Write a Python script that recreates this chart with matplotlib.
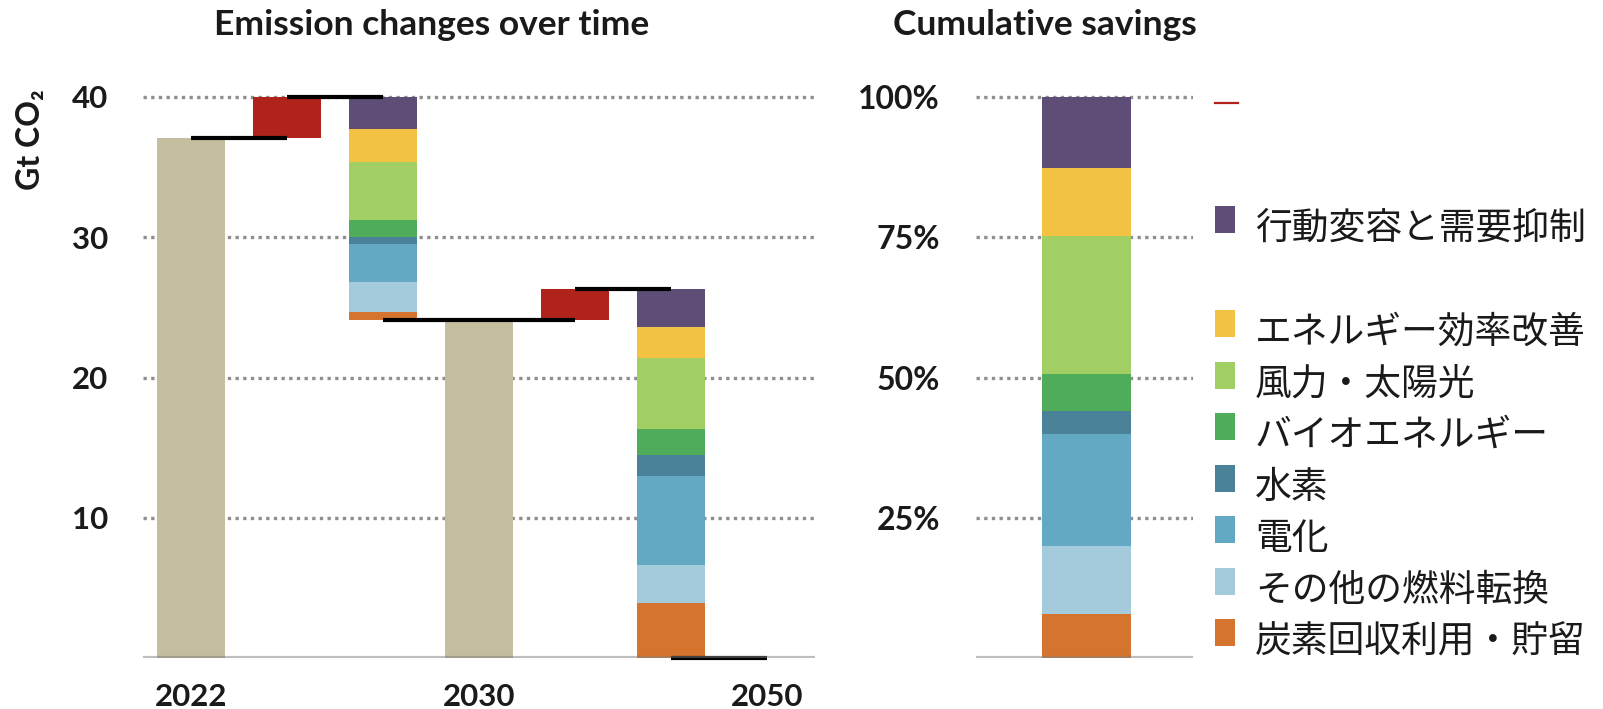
import numpy as np
import matplotlib.pyplot as plt
from matplotlib.patches import Rectangle
from matplotlib.lines import Line2D

plt.rcParams['font.family'] = ['Lato', 'DejaVu Sans']

# --- data ---
years = ['2022', '2030', '2050']
emissions = [37.1, 24.1, 0.0]          # Gt CO2
activity = [2.9, 2.2]                  # activity growth 2022-2030, 2030-2050

measures = ['行動変容と需要抑制', 'エネルギー効率改善', '風力・太陽光', 'バイオエネルギー',
            '水素', '電化', 'その他の燃料転換', '炭素回収利用・貯留']
savings_2030 = [2.3, 2.3, 4.2, 1.2, 0.5, 2.7, 2.1, 0.6]
savings_2050 = [2.7, 2.2, 5.1, 1.8, 1.5, 6.4, 2.7, 3.9]
cum_share = [12.6, 12.2, 24.5, 6.7, 4.1, 19.9, 12.2, 7.8]   # %

colors = ['#5e4d77', '#f3c242', '#a1cf64', '#4fac5b',
          '#4a8399', '#64a9c3', '#a3cbdb', '#d5742f']
base_color = '#c4be9e'
red = '#b0231a'

W, H = 1603, 709
fig = plt.figure(figsize=(W / 100, H / 100), dpi=100)


def fx(x):
    return x / W


def fy(y):
    return 1 - y / H


# vertical mapping shared by both panels: 0 at y=658px, 40 at y=97px
y0_px, ytop_px = 658, 97
ppu = (y0_px - ytop_px) / 40.0
ymax = 41
bottom = fy(y0_px)
height = ymax * ppu / H

grid_kw = dict(color='#8f8f8f', lw=2.4, ls=(0, (1, 1.3)), zorder=0)
base_kw = dict(color='#808080', alpha=0.5, lw=3, zorder=4)
text_col = '#1a1a1a'

# --- left panel: waterfall ---
ax = fig.add_axes([fx(143), bottom, (815 - 143) / W, height])
bw = 0.7
ax.bar([0, 3], emissions[:2], width=bw, color=base_color, zorder=2)
ax.bar(6, emissions[2], width=bw, color=base_color, zorder=2)
ax.bar(1, activity[0], bottom=emissions[0], width=bw, color=red, zorder=2)
ax.bar(4, activity[1], bottom=emissions[1], width=bw, color=red, zorder=2)

top1 = emissions[0] + activity[0]
top2 = emissions[1] + activity[1]
for pos, top, vals in [(2, top1, savings_2030), (5, top2, savings_2050)]:
    cs = np.cumsum(vals)
    for v, c, col in zip(vals, cs, colors):
        ax.bar(pos, v, bottom=top - c, width=bw, color=col, zorder=2)

conn = dict(color='black', lw=3, solid_capstyle='butt', zorder=3, clip_on=False)
ax.plot([0, 1], [emissions[0]] * 2, **conn)
ax.plot([1, 2], [top1] * 2, **conn)
ax.plot([2, 4], [emissions[1]] * 2, **conn)
ax.plot([4, 5], [top2] * 2, **conn)
ax.plot([5, 6], [emissions[2]] * 2, **conn)

for g in [10, 20, 30, 40]:
    ax.axhline(g, **grid_kw)
ax.axhline(0, **base_kw)

ax.set_xlim(-0.5, 6.5)
ax.set_ylim(0, ymax)
ax.set_yticks([10, 20, 30, 40])
ax.set_yticklabels(['10', '20', '30', '40'])
ax.set_xticks([0, 3, 6])
ax.set_xticklabels(years)
ax.tick_params(length=0, labelsize=22.5, colors=text_col)
ax.tick_params(axis='y', pad=25)
ax.tick_params(axis='x', pad=18)
for lab in ax.get_xticklabels() + ax.get_yticklabels():
    lab.set_fontweight('bold')
for s in ax.spines.values():
    s.set_visible(False)

# --- right panel: cumulative savings ---
ax2 = fig.add_axes([fx(976), bottom, (1193 - 976) / W, height])
shares = cum_share[::-1]
share_cols = colors[::-1]
b = 0
for v, col in zip(shares, share_cols):
    ax2.bar(0.507, v, bottom=b, width=0.41, color=col, zorder=2)
    b += v
for g in [25, 50, 75, 100]:
    ax2.axhline(g, **grid_kw)
ax2.axhline(0, **base_kw)
ax2.set_xlim(0, 1)
ax2.set_ylim(0, ymax * 2.5)
ax2.set_yticks([25, 50, 75, 100])
ax2.set_yticklabels(['25%', '50%', '75%', '100%'])
ax2.set_xticks([])
ax2.tick_params(length=0, labelsize=23, colors=text_col, pad=26)
for lab in ax2.get_yticklabels():
    lab.set_fontweight('bold')
for s in ax2.spines.values():
    s.set_visible(False)

# --- titles and axis label ---
fig.text(fx(432), fy(25), 'Emission changes over time', ha='center', va='center',
         fontsize=25.5, fontweight='bold', color=text_col)
fig.text(fx(1045), fy(25), 'Cumulative savings', ha='center', va='center',
         fontsize=25.5, fontweight='bold', color=text_col)
fig.text(fx(30), fy(140), 'Gt CO₂', rotation=90, ha='center', va='center',
         fontsize=23, fontweight='bold', color=text_col)

# --- legend ---
fig.add_artist(Line2D([fx(1215), fx(1238)], [fy(103), fy(103)], color=red, lw=1.6,
                      transform=fig.transFigure))
rows = [219.5] + [323.5 + 51.5 * k for k in range(7)]
for yc, lab, col in zip(rows, measures, colors):
    fig.add_artist(Rectangle((fx(1215), fy(yc + 13.5)), 20 / W, 27 / H,
                             facecolor=col, edgecolor='none', transform=fig.transFigure))
    fig.text(fx(1255), fy(yc + 9), lab, ha='left', va='center', fontsize=26.5,
             family=['Noto Sans CJK JP', 'DejaVu Sans'], color=text_col)

fig.savefig('out.png', dpi=100)
